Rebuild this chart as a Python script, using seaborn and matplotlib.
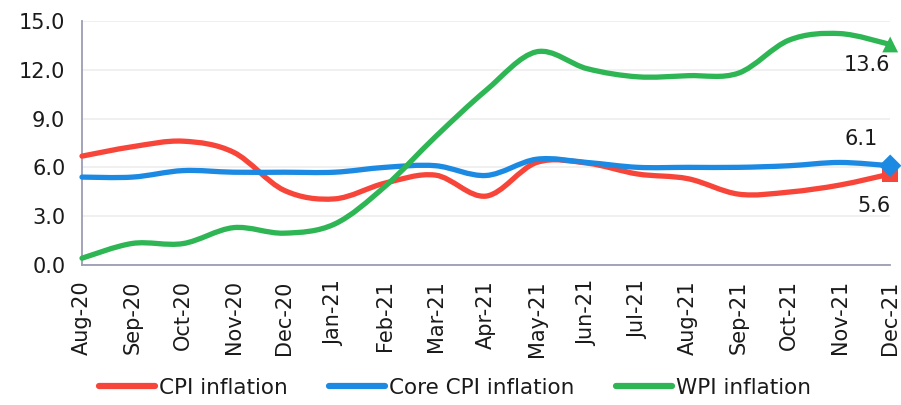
import matplotlib.pyplot as plt
import numpy as np
import pandas as pd
import seaborn as sns
from matplotlib.lines import Line2D
from matplotlib.patches import PathPatch
from matplotlib.path import Path

months = ["Aug-20", "Sep-20", "Oct-20", "Nov-20", "Dec-20", "Jan-21", "Feb-21", "Mar-21",
          "Apr-21", "May-21", "Jun-21", "Jul-21", "Aug-21", "Sep-21", "Oct-21", "Nov-21", "Dec-21"]
cpi = [6.69, 7.27, 7.61, 6.93, 4.59, 4.06, 5.03, 5.52, 4.23, 6.30, 6.26, 5.59, 5.30, 4.35, 4.48, 4.91, 5.59]
core_cpi = [5.4, 5.4, 5.8, 5.7, 5.7, 5.7, 6.0, 6.1, 5.5, 6.5, 6.3, 6.0, 6.0, 6.0, 6.1, 6.3, 6.1]
wpi = [0.41, 1.32, 1.31, 2.29, 1.95, 2.51, 4.83, 7.89, 10.74, 13.11, 12.07, 11.57, 11.64, 11.80, 13.83, 14.23, 13.56]

series = ["CPI inflation", "Core CPI inflation", "WPI inflation"]
colors = {"CPI inflation": "#F8453A", "Core CPI inflation": "#1C8AE2", "WPI inflation": "#2EB554"}
end_markers = {"CPI inflation": "s", "Core CPI inflation": "D", "WPI inflation": "^"}
end_labels = {"CPI inflation": "5.6", "Core CPI inflation": "6.1", "WPI inflation": "13.6"}

df = pd.DataFrame({"month": months, "CPI inflation": cpi,
                   "Core CPI inflation": core_cpi, "WPI inflation": wpi})
df["pos"] = np.arange(len(months))
long = df.melt(id_vars=["month", "pos"], value_vars=series, var_name="series", value_name="value")

AXIS_COLOR = "#9C9CB4"
TEXT_COLOR = "#1A1A1A"


def smooth_path(x, y, t=1 / 6):
    # Excel-style smoothed line: cubic bezier through each point
    pts = np.column_stack([x, y]).astype(float)
    n = len(pts)
    verts = [pts[0]]
    codes = [Path.MOVETO]
    for i in range(n - 1):
        p0 = pts[i - 1] if i > 0 else pts[i]
        p1, p2 = pts[i], pts[i + 1]
        p3 = pts[i + 2] if i + 2 < n else pts[i + 1]
        verts += [p1 + (p2 - p0) * t, p2 - (p3 - p1) * t, p2]
        codes += [Path.CURVE4] * 3
    return Path(verts, codes)


sns.set_style("white")
plt.rcParams["font.family"] = ["DejaVu Sans"]
plt.rcParams["text.color"] = TEXT_COLOR
plt.rcParams["xtick.labelcolor"] = TEXT_COLOR
plt.rcParams["ytick.labelcolor"] = TEXT_COLOR

fig = plt.figure(figsize=(9.01, 4.05), dpi=100)
ax = fig.add_axes([0.091, 0.346, 0.897, 0.602])

# Smoothed lines
for name in series:
    sub = long[long["series"] == name]
    patch = PathPatch(smooth_path(sub["pos"], sub["value"]), facecolor="none",
                      edgecolor=colors[name], lw=3.8, capstyle="round", joinstyle="round",
                      zorder=3, clip_on=False)
    ax.add_patch(patch)

# End markers
last = long[long["pos"] == long["pos"].max()]
sns.scatterplot(data=last, x="pos", y="value", hue="series", style="series",
                palette=colors, markers=end_markers, s=130, linewidth=0,
                legend=False, ax=ax, zorder=4, clip_on=False)

# End labels
ax.text(16, 13.56 - 1.25, end_labels["WPI inflation"], ha="right", va="center", fontsize=15)
ax.text(15.75, 6.1 + 1.65, end_labels["Core CPI inflation"], ha="right", va="center", fontsize=15)
ax.text(16, 5.59 - 1.95, end_labels["CPI inflation"], ha="right", va="center", fontsize=15)

ax.set_xlim(0, 16)
ax.set_ylim(0, 15)
ax.set_xticks(df["pos"])
ax.set_xticklabels(months, rotation=90, fontsize=15)
ax.set_yticks(np.arange(0, 15.1, 3))
ax.set_yticklabels([f"{v:.1f}" for v in np.arange(0, 15.1, 3)], fontsize=15)
ax.set_xlabel("")
ax.set_ylabel("")

ax.grid(axis="y", color="#EDEDED", lw=1.2)
ax.set_axisbelow(True)
sns.despine(ax=ax)
for side in ["left", "bottom"]:
    ax.spines[side].set_color(AXIS_COLOR)
    ax.spines[side].set_linewidth(1.3)
ax.tick_params(axis="x", direction="out", length=7, width=1.3, color=AXIS_COLOR, pad=4)
ax.tick_params(axis="y", direction="in", length=7, width=1.3, color=AXIS_COLOR, pad=12)

handles = [Line2D([0], [0], color=colors[s], lw=4.5, solid_capstyle="round") for s in series]
fig.legend(handles, series, loc="center", bbox_to_anchor=(0.505, 0.042), ncol=3,
           frameon=False, fontsize=15.5, handlelength=2.6, handletextpad=0.2,
           columnspacing=1.9)

fig.savefig("out.png", dpi=100)
